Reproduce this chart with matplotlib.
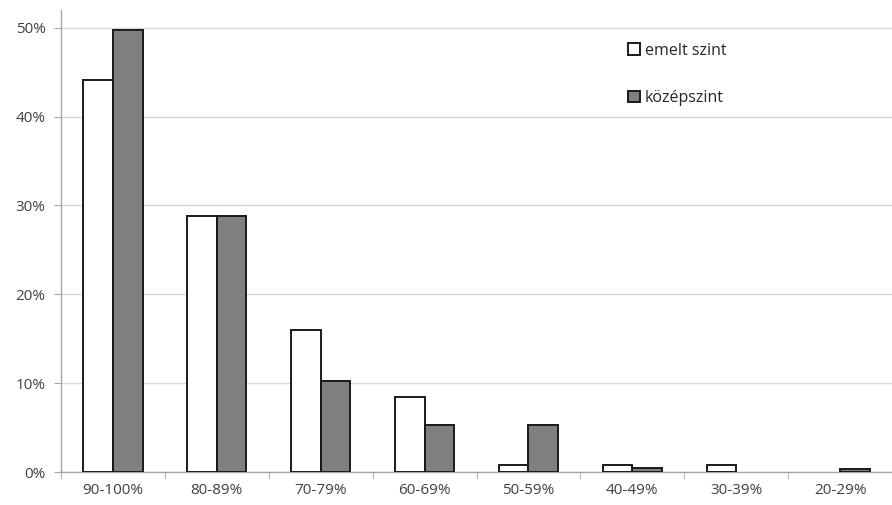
import numpy as np
import matplotlib
matplotlib.use("Agg")
import matplotlib.pyplot as plt
from matplotlib.patches import Patch
from matplotlib.ticker import FuncFormatter

# ---------- Data ----------
categories = ["90-100%", "80-89%", "70-79%", "60-69%", "50-59%", "40-49%", "30-39%", "20-29%"]
emelt = [44.1, 28.8, 16.0, 8.4, 0.8, 0.8, 0.8, 0.0]
kozep = [49.8, 28.8, 10.2, 5.3, 5.3, 0.5, 0.0, 0.3]
series_labels = ["emelt szint", "középszint"]

# ---------- Style ----------
plt.rcParams.update({
    "font.family": ["Open Sans", "DejaVu Sans"],
    "font.size": 11,
})
GRID = "#d9d9d9"
AXIS = "#a6a6a6"
TEXT = "#404040"
EDGE = "#1a1a1a"

fig = plt.figure(figsize=(8.92, 5.05), dpi=100)
ax = fig.add_axes([0.0684, 0.0653, 0.9316, 0.9149])

x = np.arange(len(categories))
w = 0.285
# zero-height bars are not drawn (no outline), as in the original
lw_e = [1.4 if v > 0 else 0 for v in emelt]
lw_k = [1.4 if v > 0 else 0 for v in kozep]
ax.bar(x - w / 2, emelt, width=w, color="white", edgecolor=EDGE, linewidth=lw_e, zorder=3)
ax.bar(x + w / 2, kozep, width=w, color="#808080", edgecolor=EDGE, linewidth=lw_k, zorder=3)

ax.set_xlim(-0.5, len(categories) - 0.5)
ax.set_ylim(0, 52.0)
ax.set_yticks(np.arange(0, 51, 10))
ax.yaxis.set_major_formatter(FuncFormatter(lambda v, _: f"{v:.0f}%"))
ax.grid(axis="y", color=GRID, linewidth=1.0, zorder=0)

ax.set_xticks(x)
ax.set_xticklabels(categories)
ax.set_xticks(np.arange(-0.5, len(categories), 1), minor=True)
ax.tick_params(axis="x", which="major", length=0, pad=8, colors=TEXT, labelsize=11)
ax.tick_params(axis="x", which="minor", length=5, color=AXIS, direction="out")
ax.tick_params(axis="y", length=5, color=AXIS, colors=TEXT, pad=6, labelsize=11)

for s in ("top", "right"):
    ax.spines[s].set_visible(False)
for s in ("left", "bottom"):
    ax.spines[s].set_color(AXIS)
    ax.spines[s].set_linewidth(1.0)

handles = [
    Patch(facecolor="white", edgecolor=EDGE, linewidth=1.4, label=series_labels[0]),
    Patch(facecolor="#808080", edgecolor=EDGE, linewidth=1.4, label=series_labels[1]),
]
ax.legend(handles=handles, loc="upper left", bbox_to_anchor=(0.665, 0.96),
          frameon=False, handlelength=0.75, handleheight=0.75, handletextpad=0.3,
          labelspacing=1.95, fontsize=11.5, labelcolor="#262626")

fig.savefig("out.png", dpi=100)
